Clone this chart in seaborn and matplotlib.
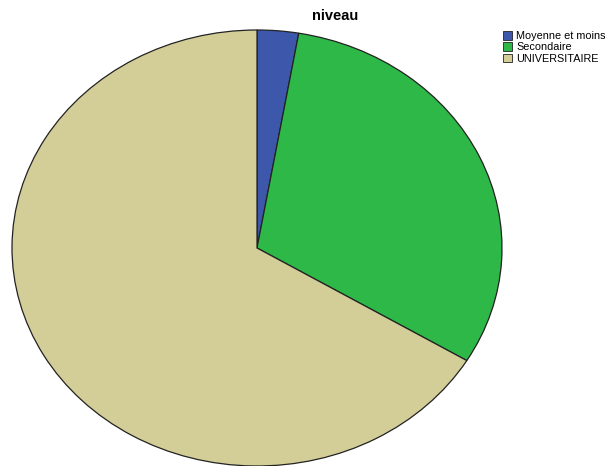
import matplotlib
matplotlib.use("Agg")
import matplotlib.pyplot as plt
import seaborn as sns

categories = ["Moyenne et moins", "Secondaire", "UNIVERSITAIRE"]
counts = [3, 34, 73]
colors = ["#3d58ab", "#2eb848", "#d3ce98"]

sns.set_theme(style="white")
plt.rcParams['font.family'] = ['Liberation Sans', 'DejaVu Sans']
plt.rcParams['text.color'] = 'black'
palette = sns.color_palette(colors)

fig = plt.figure(figsize=(6.08, 4.66), dpi=100)
ax = fig.add_axes([12/608, 0, 490/608, 436/466])
wedges, _ = ax.pie(counts, colors=palette, startangle=90, counterclock=False,
                   radius=1.0, wedgeprops=dict(edgecolor="#222222", linewidth=0.9))
ax.set_aspect('auto')
ax.set_xlim(-1.0, 1.0)
ax.set_ylim(-1.0, 1.0)
ax.axis('off')

fig.text(335/608, 1 - 16/466, "niveau", ha='center', va='center',
         fontsize=10.5, fontweight='bold', color='black')

leg = fig.legend(wedges, categories, loc='upper left',
                 bbox_to_anchor=(503/608, 1 - 31/466), frameon=False,
                 fontsize=7.8, handlelength=0.85, handleheight=0.85,
                 handletextpad=0.35, labelspacing=0.12, borderpad=0,
                 borderaxespad=0, labelcolor='black')
for h in leg.legend_handles:
    h.set_linewidth(0.6)

fig.savefig("out.png", dpi=100)
